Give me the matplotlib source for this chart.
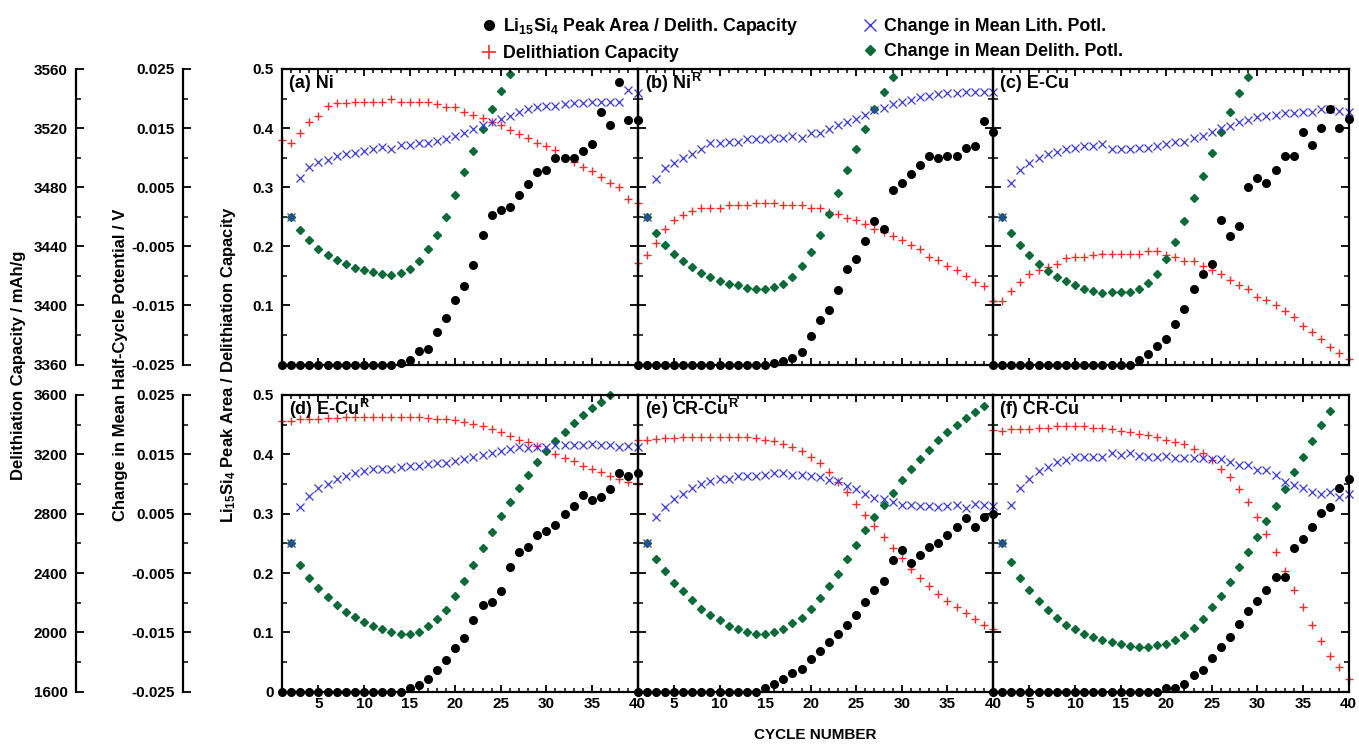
import numpy as np
import matplotlib
matplotlib.use('Agg')
import matplotlib.pyplot as plt
from matplotlib.ticker import MultipleLocator, FixedLocator, FixedFormatter
from matplotlib.lines import Line2D

plt.rcParams['font.family'] = ['Liberation Sans', 'DejaVu Sans']
plt.rcParams['font.weight'] = 'bold'
plt.rcParams['mathtext.fontset'] = 'custom'
plt.rcParams['mathtext.rm'] = 'Liberation Sans:bold'
plt.rcParams['mathtext.bf'] = 'Liberation Sans:bold'
plt.rcParams['mathtext.it'] = 'Liberation Sans:bold'
plt.rcParams['mathtext.default'] = 'rm'

cycles = np.arange(1, 41)

# Li15Si4 peak area / delith. capacity (cycles 1-40)
peak_a = [0, 0, 0, 0, 0, 0, 0, 0, 0, 0, 0, 0, 0, 0.003, 0.007, 0.023, 0.026, 0.055, 0.079, 0.109,
          0.133, 0.169, 0.219, 0.253, 0.262, 0.266, 0.287, 0.306, 0.326, 0.330, 0.350, 0.349, 0.350,
          0.361, 0.373, 0.427, 0.406, 0.478, 0.414, 0.414]
peak_b = [0, 0, 0, 0, 0, 0, 0, 0, 0, 0, 0, 0, 0, 0, 0, 0.002, 0.006, 0.011, 0.022, 0.048, 0.075,
          0.093, 0.126, 0.162, 0.179, 0.209, 0.243, 0.229, 0.295, 0.307, 0.322, 0.337, 0.352, 0.349,
          0.352, 0.352, 0.367, 0.369, 0.412, 0.394]
peak_c = [0, 0, 0, 0, 0, 0, 0, 0, 0, 0, 0, 0, 0, 0, 0, 0, 0.008, 0.018, 0.032, 0.043, 0.069, 0.094,
          0.128, 0.154, 0.171, 0.244, 0.218, 0.235, 0.301, 0.315, 0.308, 0.330, 0.353, 0.353, 0.393,
          0.372, 0.401, 0.432, 0.401, 0.415]
peak_d = [0, 0, 0, 0, 0, 0, 0, 0, 0, 0, 0, 0, 0, 0, 0.006, 0.012, 0.021, 0.037, 0.054, 0.073, 0.090,
          0.120, 0.146, 0.152, 0.170, 0.210, 0.235, 0.244, 0.264, 0.271, 0.281, 0.299, 0.313, 0.331,
          0.323, 0.328, 0.342, 0.369, 0.364, 0.369]
peak_e = [0, 0, 0, 0, 0, 0, 0, 0, 0, 0, 0, 0, 0, 0, 0.006, 0.013, 0.021, 0.031, 0.039, 0.055, 0.069,
          0.083, 0.098, 0.113, 0.130, 0.151, 0.172, 0.187, 0.222, 0.239, 0.217, 0.230, 0.244, 0.250,
          0.264, 0.278, 0.292, 0.278, 0.295, 0.299]
peak_f = [0, 0, 0, 0, 0, 0, 0, 0, 0, 0, 0, 0, 0, 0, 0, 0, 0, 0, 0, 0.006, 0.007, 0.013, 0.028, 0.036,
          0.056, 0.075, 0.093, 0.114, 0.136, 0.153, 0.172, 0.194, 0.194, 0.242, 0.257, 0.278, 0.301,
          0.312, 0.343, 0.359]

# delithiation capacity, mAh/g (cycles 1-40)
cap_a = [3512, 3510, 3517, 3524, 3528, 3535, 3537, 3537, 3538, 3538, 3538, 3538, 3540, 3538, 3538,
         3538, 3538, 3536, 3534, 3534, 3531, 3529, 3527, 3524, 3522, 3519, 3516, 3513, 3510, 3508,
         3505, 3500, 3497, 3494, 3491, 3487, 3483, 3480, 3472, 3469]
cap_b = [3429, 3434, 3442, 3452, 3458, 3461, 3464, 3466, 3466, 3466, 3468, 3468, 3468, 3469, 3469,
         3469, 3468, 3468, 3468, 3466, 3466, 3463, 3462, 3459, 3458, 3455, 3452, 3450, 3447, 3444,
         3441, 3438, 3433, 3431, 3427, 3424, 3420, 3416, 3413, 3403]
cap_c = [3403, 3403, 3410, 3416, 3421, 3424, 3426, 3428, 3432, 3433, 3433, 3434, 3435, 3435, 3435,
         3435, 3435, 3437, 3437, 3434, 3433, 3430, 3430, 3427, 3424, 3421, 3417, 3414, 3411, 3406,
         3404, 3400, 3396, 3392, 3386, 3382, 3377, 3372, 3368, 3364]
cap_d = [3428, 3428, 3436, 3440, 3440, 3448, 3448, 3452, 3452, 3452, 3452, 3452, 3452, 3452, 3452,
         3452, 3448, 3440, 3440, 3432, 3420, 3404, 3388, 3368, 3352, 3324, 3300, 3280, 3256, 3232,
         3204, 3176, 3152, 3124, 3100, 3084, 3056, 3032, 3012, 3000]
cap_e = [3300, 3300, 3304, 3312, 3312, 3316, 3316, 3320, 3320, 3320, 3320, 3316, 3316, 3312, 3300,
         3288, 3268, 3252, 3224, 3184, 3140, 3084, 3016, 2944, 2868, 2792, 2716, 2640, 2568, 2500,
         2428, 2368, 2312, 2260, 2212, 2168, 2128, 2088, 2052, 2020]
cap_f = [3364, 3360, 3368, 3372, 3372, 3376, 3380, 3388, 3388, 3388, 3388, 3380, 3376, 3368, 3360,
         3352, 3340, 3332, 3316, 3300, 3284, 3268, 3236, 3208, 3160, 3104, 3044, 2968, 2880, 2776,
         2660, 2540, 2416, 2288, 2168, 2048, 1944, 1844, 1764, 1684]

# change in mean lithiation potential, V (from cycle 2)
lith_a = [0, .0066, .0084, .0093, .0096, .0102, .0106, .0108, .0112, .0115, .0118, .0115, .0121,
          .0121, .0125, .0125, .0129, .0132, .0137, .0142, .0149, .0155, .0161, .0165, .0170, .0177,
          .0182, .0185, .0188, .0188, .0191, .0193, .0193, .0195, .0195, .0195, .0195, .0215, .0210]
lith_b = [0, .0064, .0082, .0091, .0099, .0107, .0115, .0124, .0124, .0127, .0127, .0131, .0131,
          .0131, .0134, .0134, .0137, .0134, .0142, .0142, .0148, .0156, .0160, .0166, .0172, .0181,
          .0184, .0191, .0194, .0198, .0202, .0205, .0208, .0209, .0209, .0211, .0211, .0211, .0211]
lith_c = [0, .0058, .0080, .0091, .0100, .0107, .0110, .0114, .0117, .0120, .0120, .0123, .0114,
          .0114, .0114, .0116, .0116, .0119, .0123, .0126, .0127, .0134, .0137, .0144, .0150, .0154,
          .0160, .0164, .0169, .0171, .0173, .0175, .0175, .0178, .0178, .0182, .0182, .0179, .0178]
lith_d = [0, .0061, .0079, .0093, .0100, .0109, .0114, .0118, .0122, .0125, .0125, .0126, .0128,
          .0130, .0130, .0134, .0135, .0136, .0138, .0142, .0146, .0149, .0153, .0156, .0159, .0163,
          .0160, .0163, .0163, .0166, .0166, .0166, .0166, .0168, .0166, .0166, .0163, .0164, .0163]
lith_e = [0, .0044, .0062, .0075, .0084, .0093, .0100, .0105, .0108, .0109, .0113, .0113, .0113,
          .0116, .0118, .0118, .0115, .0115, .0113, .0111, .0107, .0105, .0096, .0091, .0084, .0077,
          .0074, .0069, .0065, .0065, .0063, .0063, .0062, .0063, .0065, .0060, .0066, .0065, .0063]
lith_f = [0, .0065, .0094, .0108, .0122, .0128, .0137, .0140, .0145, .0146, .0146, .0145, .0152,
          .0149, .0152, .0148, .0146, .0145, .0147, .0143, .0143, .0143, .0143, .0142, .0142, .0137,
          .0132, .0132, .0124, .0123, .0116, .0104, .0098, .0093, .0087, .0083, .0087, .0078, .0083]

# change in mean delithiation potential, V (from cycle 2, points above the axis are not shown)
delith_a = [0, -.0023, -.0040, -.0054, -.0064, -.0073, -.0080, -.0087, -.0090, -.0093, -.0096,
            -.0098, -.0095, -.0088, -.0075, -.0055, -.0030, 0, .0037, .0075, .0112, .0149, .0182,
            .0213, .0242]
delith_b = [0, -.0027, -.0047, -.0063, -.0075, -.0085, -.0095, -.0102, -.0108, -.0113, -.0116,
            -.0120, -.0122, -.0122, -.0119, -.0114, -.0102, -.0084, -.0060, -.0031, .0004, .0040,
            .0079, .0115, .0149, .0182, .0211, .0237]
delith_c = [0, -.0028, -.0048, -.0065, -.0079, -.0091, -.0101, -.0109, -.0116, -.0122, -.0126,
            -.0129, -.0127, -.0127, -.0127, -.0122, -.0112, -.0096, -.0072, -.0042, -.0007, .0031,
            .0069, .0108, .0144, .0178, .0209, .0237]
delith_d = [0, -.0037, -.0058, -.0075, -.0090, -.0104, -.0115, -.0124, -.0132, -.0139, -.0144,
            -.0149, -.0152, -.0152, -.0149, -.0140, -.0128, -.0112, -.0089, -.0063, -.0037, -.0008,
            .0019, .0046, .0070, .0093, .0116, .0137, .0156, .0172, .0188, .0202, .0216, .0228,
            .0238, .0250]
delith_e = [0, -.0026, -.0046, -.0066, -.0081, -.0096, -.0111, -.0121, -.0130, -.0139, -.0144,
            -.0149, -.0153, -.0153, -.0150, -.0144, -.0135, -.0125, -.0110, -.0092, -.0072, -.0051,
            -.0027, -.0002, .0022, .0044, .0065, .0085, .0107, .0125, .0142, .0157, .0174, .0187,
            .0199, .0212, .0222, .0231]
delith_f = [0, -.0032, -.0058, -.0079, -.0097, -.0113, -.0125, -.0137, -.0144, -.0153, -.0158,
            -.0163, -.0167, -.0170, -.0173, -.0174, -.0174, -.0172, -.0169, -.0163, -.0154, -.0142,
            -.0127, -.0108, -.0088, -.0065, -.0040, -.0015, .0011, .0038, .0063, .0092, .0120,
            .0146, .0172, .0199, .0223]

titles = ['(a) Ni', '(b) Ni$^{R}$', '(c) E-Cu', '(d) E-Cu$^{R}$', '(e) CR-Cu$^{R}$', '(f) CR-Cu']
peaks = [peak_a, peak_b, peak_c, peak_d, peak_e, peak_f]
caps = [cap_a, cap_b, cap_c, cap_d, cap_e, cap_f]
liths = [lith_a, lith_b, lith_c, lith_d, lith_e, lith_f]
deliths = [delith_a, delith_b, delith_c, delith_d, delith_e, delith_f]

cap_lims = [(3360, 3560), (1600, 3600)]
cap_ticks = [np.arange(3360, 3561, 40), np.arange(1600, 3601, 400)]
cap_minor = [20, 200]

BLACK = '#000000'
RED = '#ff2a2a'
BLUE = '#3a3ad8'
GREEN = '#0b6a38'

fig = plt.figure(figsize=(13.59, 7.44), dpi=100)

W = 1359.0
H = 744.0
col_left = [282, 637.5, 993]
panel_w = 355.5
rows = [(69, 364.6), (395, 691.7)]  # top/bottom pixel of each row


def style_ticks(ax, which_axis, major, minor):
    ax.tick_params(axis=which_axis, which='major', direction='in', length=major, width=1.3,
                   labelsize=11)
    ax.tick_params(axis=which_axis, which='minor', direction='in', length=minor, width=1.1)


for i in range(6):
    r, c = divmod(i, 3)
    top, bot = rows[r]
    rect = [col_left[c] / W, 1 - bot / H, panel_w / W, (bot - top) / H]
    ax = fig.add_axes(rect)
    axc = ax.twinx()
    axp = ax.twinx()
    for a in (axc, axp):
        a.axis('off')

    ax.set_xlim(1, 40)
    ax.set_ylim(0, 0.5)
    axc.set_ylim(*cap_lims[r])
    axp.set_ylim(-0.025, 0.025)

    ms_kw = dict(ls='none', clip_on=False)
    axp.plot(cycles[1:1 + len(deliths[i])], deliths[i], marker='D', ms=3.8, color=GREEN,
             mec=GREEN, **ms_kw)
    axp.plot(cycles[1:], liths[i], marker='x', ms=5.2, mew=0.9, color=BLUE, **ms_kw)
    axc.plot(cycles, caps[i], marker='+', ms=6.2, mew=1.0, color=RED, **ms_kw)
    ax.plot(cycles, peaks[i], marker='o', ms=5.5, color=BLACK, zorder=5, **ms_kw)
    ax.set_zorder(axc.get_zorder() + 2)
    ax.patch.set_visible(False)

    for s in ax.spines.values():
        s.set_linewidth(1.6)

    ax.xaxis.set_major_locator(MultipleLocator(5))
    ax.xaxis.set_minor_locator(MultipleLocator(1))
    ax.yaxis.set_major_locator(MultipleLocator(0.1))
    ax.yaxis.set_minor_locator(MultipleLocator(0.05))
    ax.tick_params(top=True, right=True, which='both')
    style_ticks(ax, 'x', 5, 3)
    style_ticks(ax, 'y', 6, 3.5)
    ax.tick_params(axis='y', pad=6)
    ax.tick_params(axis='x', pad=4)

    if r == 0:
        ax.set_xticklabels([])
    if c == 0:
        ylabels = ['0', '0.1', '0.2', '0.3', '0.4', '0.5']
        if r == 0:
            ylabels[0] = ''
        ax.yaxis.set_major_locator(FixedLocator([0, 0.1, 0.2, 0.3, 0.4, 0.5]))
        ax.yaxis.set_major_formatter(FixedFormatter(ylabels))
    else:
        ax.set_yticklabels([])

    ax.text(0.02, 0.952, titles[i], transform=ax.transAxes, fontsize=13, fontweight='bold',
            va='center', ha='left')

    # offset axes on the far left for capacity and potential
    if c == 0:
        for xpix, kind in ((76, 'cap'), (183, 'pot')):
            oax = fig.add_axes([xpix / W, rect[1], 0.0001, rect[3]])
            oax.patch.set_visible(False)
            for name, s in oax.spines.items():
                s.set_visible(name == 'left')
                s.set_linewidth(1.6)
            oax.set_xticks([])
            if kind == 'cap':
                oax.set_ylim(*cap_lims[r])
                oax.yaxis.set_major_locator(FixedLocator(cap_ticks[r]))
                oax.yaxis.set_minor_locator(MultipleLocator(cap_minor[r]))
                oax.set_yticklabels([str(v) for v in cap_ticks[r]])
            else:
                oax.set_ylim(-0.025, 0.025)
                pt = [-0.025, -0.015, -0.005, 0.005, 0.015, 0.025]
                oax.yaxis.set_major_locator(FixedLocator(pt))
                oax.yaxis.set_minor_locator(FixedLocator([-0.02, -0.01, 0, 0.01, 0.02]))
                oax.set_yticklabels(['%.3f' % v for v in pt])
            style_ticks(oax, 'y', 6, 3.5)
            oax.tick_params(axis='y', pad=6)

ylab_y = 1 - 365 / H
fig.text(19 / W, ylab_y, 'Delithiation Capacity / mAh/g', rotation=90, ha='center',
         va='center', fontsize=12, fontweight='bold')
fig.text(120 / W, ylab_y, 'Change in Mean Half-Cycle Potential / V', rotation=90,
         ha='center', va='center', fontsize=12, fontweight='bold')
fig.text(229 / W, ylab_y, 'Li$_{15}$Si$_{4}$ Peak Area / Delithiation Capacity', rotation=90,
         ha='center', va='center', fontsize=12, fontweight='bold')
fig.text(815 / W, 1 - 735 / H, 'CYCLE NUMBER', ha='center', va='center', fontsize=11,
         fontweight='bold')

handles = [
    Line2D([], [], ls='none', marker='o', ms=7, color=BLACK),
    Line2D([], [], ls='none', marker='+', ms=10, mew=1.2, color=RED),
    Line2D([], [], ls='none', marker='x', ms=8, mew=1.0, color=BLUE),
    Line2D([], [], ls='none', marker='D', ms=5, color=GREEN),
]
labels = ['Li$_{15}$Si$_{4}$ Peak Area / Delith. Capacity', 'Delithiation Capacity',
          'Change in Mean Lith. Potl.', 'Change in Mean Delith. Potl.']
fig.legend(handles, labels, ncol=2, loc='upper left', bbox_to_anchor=(466 / W, 1.0),
           frameon=False, fontsize=12.8, handlelength=0.8, handletextpad=0.4,
           columnspacing=3.6, labelspacing=0.45)

fig.savefig('out.png', dpi=100)
